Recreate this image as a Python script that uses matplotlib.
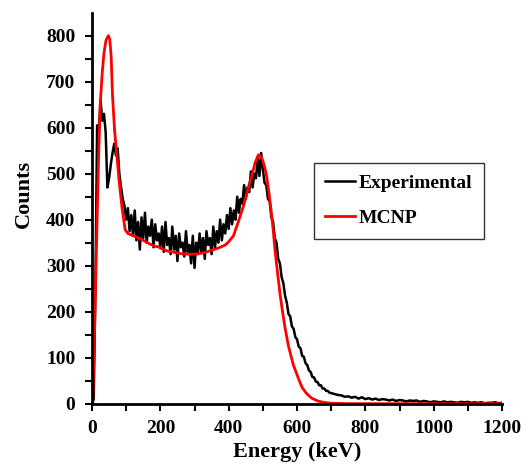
import numpy as np
import matplotlib
matplotlib.use("Agg")
import matplotlib.pyplot as plt

plt.rcParams['font.family'] = ['Liberation Serif', 'DejaVu Serif']
plt.rcParams['font.weight'] = 'bold'

# measured spectrum, 5 keV channels from 0 to 700 keV
exp_low_energy = np.arange(0, 705, 5)
exp_low_counts = [
    0, 10, 250, 605, 590, 660, 615, 630, 590, 470,
    490, 520, 545, 565, 540, 555, 500, 470, 445, 430,
    400, 425, 375, 410, 365, 420, 355, 395, 335, 405,
    360, 415, 350, 385, 365, 400, 340, 390, 355, 370,
    340, 385, 330, 395, 345, 360, 325, 385, 335, 365,
    310, 370, 340, 350, 320, 375, 330, 345, 305, 365,
    295, 350, 325, 370, 330, 360, 315, 375, 345, 360,
    325, 385, 340, 375, 350, 400, 355, 390, 370, 410,
    380, 425, 390, 420, 400, 450, 415, 445, 435, 475,
    445, 470, 460, 505, 470, 500, 490, 535, 495, 545,
    510, 480, 475, 445, 440, 405, 395, 360, 350, 315,
    305, 275, 262, 235, 220, 195, 190, 168, 163, 145,
    140, 124, 121, 104, 102, 88, 84, 72, 69, 58,
    57, 48, 47, 40, 40, 33, 33, 28, 28, 24,
    23,
]

# tail, 10 keV channels from 710 to 1200 keV
exp_high_energy = np.arange(710, 1210, 10)
exp_high_counts = [
    21, 19, 18, 15, 16, 13, 15, 11, 14, 10,
    12, 9, 11, 8, 10, 9, 7, 9, 6, 8,
    7, 5, 7, 6, 7, 4, 6, 5, 3, 5,
    4, 3, 5, 3, 4, 3, 2, 4, 3, 4,
    2, 3, 2, 3, 1, 2, 2, 3, 1, 2,
]

# simulated MCNP response
mcnp_energy = [0, 2, 8, 14, 19, 24, 30, 35, 41, 48,
               52, 56, 60, 66, 72, 80, 88, 97, 105, 111,
               130, 150, 170, 185, 195, 200, 220, 240, 260, 280,
               300, 320, 340, 360, 375, 390, 400, 414, 428, 443,
               455, 467, 478, 487, 494, 500, 506, 511, 518, 525,
               530, 536, 543, 550, 558, 565, 575, 589, 604, 615,
               628, 643, 660, 677, 700, 750, 1200]
mcnp_counts = [0, 0, 180, 370, 530, 650, 720, 762, 790, 800,
               792, 755, 670, 595, 545, 480, 425, 378, 370, 368,
               362, 355, 347, 342, 341, 338, 332, 329, 326, 325,
               325, 327, 331, 336, 340, 345, 352, 365, 395, 429,
               462, 494, 525, 541, 538, 528, 512, 495, 458, 414,
               380, 330, 285, 240, 198, 165, 125, 85, 55, 35,
               22, 12, 6, 3, 1, 0, 0]

exp_energy = np.concatenate([exp_low_energy, exp_high_energy])
exp_counts = np.array(exp_low_counts + exp_high_counts)

fig = plt.figure(figsize=(5.3, 4.68), dpi=100)
ax = fig.add_axes([0.1736, 0.1374, 0.7736, 0.8356])

ax.plot(exp_energy, exp_counts, color='black', lw=1.8, label='Experimental')
ax.plot(mcnp_energy, mcnp_counts, color='#ff0000', lw=2.0, label='MCNP')

ax.set_xlim(0, 1200)
ax.set_ylim(0, 850)
ax.set_xticks(np.arange(0, 1201, 200))
ax.set_xticks(np.arange(100, 1200, 200), minor=True)
ax.set_yticks(np.arange(0, 801, 100))
ax.set_yticks(np.arange(50, 850, 100), minor=True)

for side in ['top', 'right']:
    ax.spines[side].set_visible(False)
for side in ['left', 'bottom']:
    ax.spines[side].set_linewidth(2)

ax.tick_params(which='both', direction='out', length=5, width=1.5, pad=7,
               labelsize=14)
for lab in ax.get_xticklabels() + ax.get_yticklabels():
    lab.set_fontweight('bold')

ax.set_xlabel('Energy (keV)', fontsize=16, fontweight='bold', labelpad=3)
ax.set_ylabel('Counts', fontsize=16, fontweight='bold')
ax.yaxis.set_label_coords(-0.142, 0.536)

leg = ax.legend(loc='upper left', bbox_to_anchor=(0.541, 0.616),
                fontsize=14, frameon=True, fancybox=False,
                handlelength=1.5, handletextpad=0.2, labelspacing=0.9,
                borderpad=0.6, borderaxespad=0)
leg.get_frame().set_edgecolor('black')
leg.get_frame().set_linewidth(1.0)
for t in leg.get_texts():
    t.set_fontweight('bold')

fig.savefig('out.png', dpi=100)
